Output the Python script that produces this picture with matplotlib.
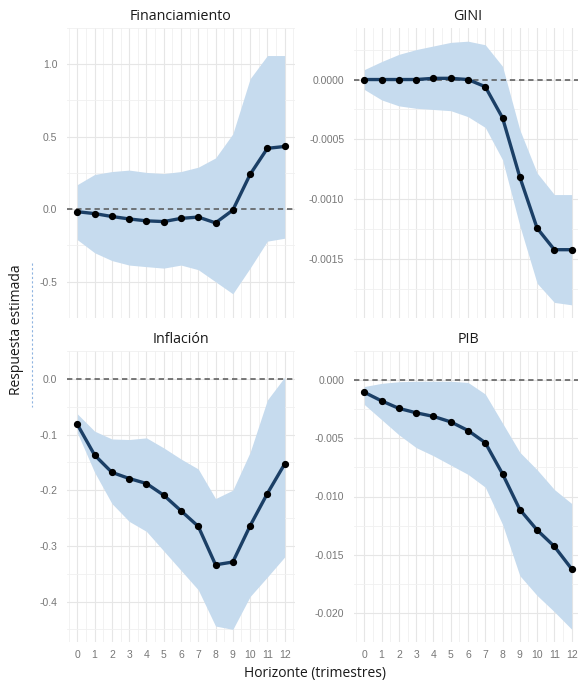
import numpy as np
import matplotlib
matplotlib.use("Agg")
import matplotlib.pyplot as plt
from matplotlib.lines import Line2D

plt.rcParams['axes.unicode_minus'] = False

horizon = list(range(13))

# Financiamiento
fin_irf = [-0.017, -0.03, -0.05, -0.067, -0.08, -0.085, -0.063, -0.054, -0.094, -0.006, 0.24, 0.42, 0.433]
fin_hi = [0.17, 0.24, 0.26, 0.27, 0.254, 0.246, 0.26, 0.29, 0.354, 0.52, 0.9, 1.06, 1.06]
fin_lo = [-0.21, -0.30, -0.354, -0.385, -0.396, -0.406, -0.385, -0.417, -0.5, -0.583, -0.406, -0.22, -0.2]

# GINI
gini_irf = [0.0, 0.0, 0.0, 0.0, 0.00001, 0.00001, 0.0, -0.00006, -0.00032, -0.000814, -0.00124, -0.00142, -0.00142]
gini_hi = [0.000083, 0.00015, 0.00021, 0.00025, 0.00028, 0.00031, 0.00032, 0.00029, 0.00011, -0.00042, -0.00078, -0.00096, -0.00096]
gini_lo = [-0.000083, -0.00017, -0.00022, -0.00024, -0.00025, -0.00026, -0.00031, -0.0004, -0.00067, -0.00122, -0.0017, -0.00186, -0.00188]

# Inflación
inf_irf = [-0.082, -0.137, -0.168, -0.179, -0.188, -0.209, -0.237, -0.265, -0.334, -0.329, -0.264, -0.206, -0.153]
inf_hi = [-0.063, -0.094, -0.108, -0.109, -0.106, -0.124, -0.144, -0.162, -0.215, -0.2, -0.132, -0.038, 0.003]
inf_lo = [-0.097, -0.168, -0.224, -0.256, -0.274, -0.309, -0.344, -0.379, -0.444, -0.45, -0.391, -0.356, -0.32]

# PIB
pib_irf = [-0.00105, -0.00179, -0.00243, -0.00281, -0.00312, -0.00359, -0.00433, -0.00538, -0.00806, -0.01112, -0.01288, -0.01429, -0.01622]
pib_hi = [-0.00055, -0.00028, -0.00014, -0.0001, -0.0001, -0.0001, -0.0002, -0.0012, -0.0037, -0.0062, -0.0077, -0.0094, -0.0106]
pib_lo = [-0.0021, -0.0034, -0.0047, -0.0058, -0.0065, -0.0073, -0.0081, -0.0092, -0.0124, -0.0168, -0.0185, -0.0199, -0.0214]

fin_ticks = [-0.5, 0.0, 0.5, 1.0]
fin_labels = ["-0.5", "0.0", "0.5", "1.0"]
gini_ticks = [-0.0015, -0.0010, -0.0005, 0.0]
gini_labels = ["-0.0015", "-0.0010", "-0.0005", "0.0000"]
inf_ticks = [-0.4, -0.3, -0.2, -0.1, 0.0]
inf_labels = ["-0.4", "-0.3", "-0.2", "-0.1", "0.0"]
pib_ticks = [-0.020, -0.015, -0.010, -0.005, 0.0]
pib_labels = ["-0.020", "-0.015", "-0.010", "-0.005", "0.000"]

W, H = 578, 683
fig = plt.figure(figsize=(W / 100, H / 100), dpi=100)

def px_axes(x0, y0, x1, y1):
    return fig.add_axes([x0 / W, 1 - y1 / H, (x1 - x0) / W, (y1 - y0) / H])

panels = [
    ("Financiamiento", fin_irf, fin_lo, fin_hi, fin_ticks, fin_labels, (67, 28, 295, 318), False),
    ("GINI", gini_irf, gini_lo, gini_hi, gini_ticks, gini_labels, (354, 28, 582, 318), False),
    ("Inflación", inf_irf, inf_lo, inf_hi, inf_ticks, inf_labels, (67, 351, 295, 642), True),
    ("PIB", pib_irf, pib_lo, pib_hi, pib_ticks, pib_labels, (354, 351, 582, 642), True),
]

for title, irf, lo, hi, ticks, labels, box, show_x in panels:
    ax = px_axes(*box)
    x = np.array(horizon)
    ax.fill_between(x, lo, hi, color="#c6dbee", lw=0, zorder=2)
    ax.axhline(0, color="#555555", ls=(0, (3.5, 2.5)), lw=1.1, zorder=3)
    ax.plot(x, irf, color="#1b3f66", lw=2.4, zorder=4)
    ax.plot(x, irf, "o", color="black", ms=4.2, zorder=5)

    vmin = min(min(lo), 0)
    vmax = max(max(hi), 0)
    pad = (vmax - vmin) * 0.05
    ax.set_ylim(vmin - pad, vmax + pad)
    ax.set_xlim(-0.6, 12.6)

    ax.set_yticks(ticks)
    ax.set_yticklabels(labels)
    step = ticks[1] - ticks[0]
    minor = [t + step / 2 for t in [ticks[0] - step] + ticks]
    ax.set_yticks(minor, minor=True)
    ax.set_xticks(horizon)
    ax.set_xticks([h + 0.5 for h in range(-1, 13)], minor=True)
    if show_x:
        ax.set_xticklabels([str(h) for h in horizon])
    else:
        ax.set_xticklabels([])

    ax.grid(which="major", color="#e6e6e6", lw=0.8)
    ax.grid(which="minor", color="#f0f0f0", lw=0.6)
    ax.set_axisbelow(True)
    for s in ax.spines.values():
        s.set_visible(False)
    ax.tick_params(which="both", length=0)
    ax.tick_params(axis="y", labelsize=7.5, labelcolor="#777777", pad=7)
    ax.tick_params(axis="x", labelsize=7.5, labelcolor="#777777", pad=6)
    for lab in ax.get_xticklabels() + ax.get_yticklabels():
        lab.set_family("Liberation Sans")
    ax.set_title(title, fontsize=10.3, family="Open Sans", color="#1a1a1a", pad=6)

fig.text(315 / W, 1 - 673 / H, "Horizonte (trimestres)", ha="center", va="center",
         fontsize=10, family="Open Sans", color="#1a1a1a")
fig.text(17 / W, 1 - 330 / H, "Respuesta estimada", ha="center", va="center",
         rotation=90, fontsize=10, family="Open Sans", color="#1a1a1a")
fig.add_artist(Line2D([32 / W, 32 / W], [1 - 263 / H, 1 - 407 / H], color="#8fb4e0",
                      ls=(0, (2, 2)), lw=0.8))

fig.savefig("out.png", dpi=100)
